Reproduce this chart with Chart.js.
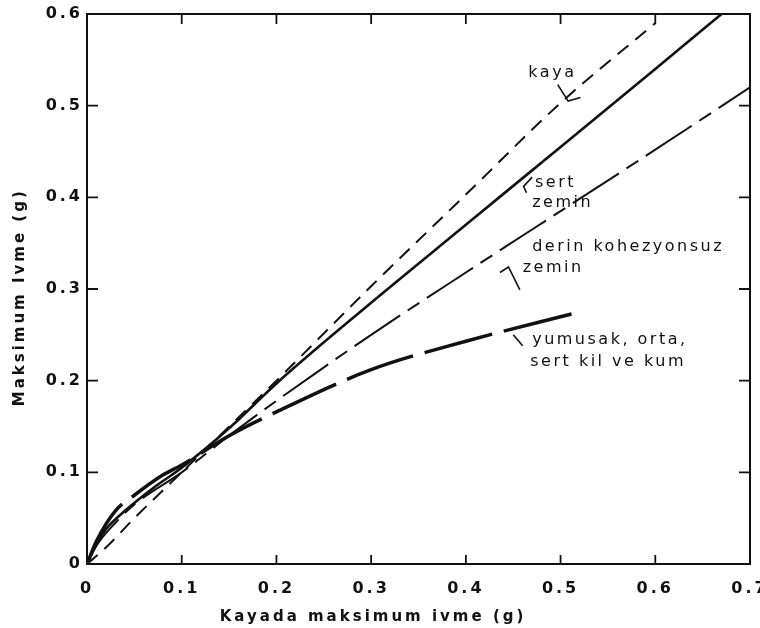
<!DOCTYPE html>
<html>
<head>
<meta charset="utf-8">
<script src="https://cdn.jsdelivr.net/npm/chart.js@4.4.1/dist/chart.umd.min.js"></script>
<style>
  html, body { margin: 0; padding: 0; background: #fff; }
  #wrap { width: 760px; height: 628px; }
</style>
</head>
<body>
<div id="wrap"><canvas id="chart" width="760" height="628"></canvas></div>
<script>
// values (g)
const kayaX = [0, 0.02, 0.05, 0.1, 0.2, 0.3, 0.4, 0.5, 0.6];
const kayaY = [0, 0.018, 0.05, 0.1, 0.2, 0.303, 0.403, 0.503, 0.59];

const sertX = [0, 0.01, 0.02, 0.04, 0.07, 0.1, 0.15, 0.2, 0.3, 0.4, 0.5, 0.6, 0.67];
const sertY = [0, 0.022, 0.038, 0.058, 0.083, 0.105, 0.148, 0.197, 0.285, 0.37, 0.455, 0.54, 0.6];

const derinX = [0, 0.01, 0.03, 0.05, 0.1, 0.15, 0.2, 0.3, 0.4, 0.5, 0.6, 0.7];
const derinY = [0, 0.02, 0.045, 0.065, 0.1, 0.14, 0.178, 0.25, 0.318, 0.385, 0.452, 0.52];

const yumusakX = [0, 0.01, 0.03, 0.05, 0.08, 0.1, 0.15, 0.2, 0.3, 0.4, 0.52];
const yumusakY = [0, 0.025, 0.058, 0.075, 0.097, 0.108, 0.14, 0.166, 0.212, 0.243, 0.275];

const xTickValues = [0, 0.1, 0.2, 0.3, 0.4, 0.5, 0.6, 0.7];
const xTickLabels = ["0", "0.1", "0.2", "0.3", "0.4", "0.5", "0.6", "0.7"];
const yTickValues = [0, 0.1, 0.2, 0.3, 0.4, 0.5, 0.6];
const yTickLabels = ["0", "0.1", "0.2", "0.3", "0.4", "0.5", "0.6"];

// curve labels inside the plot (data coordinates of text start)
const curveLabels = [
    { text: "kaya", x: 0.466, y: 0.536 },
    { text: "sert", x: 0.473, y: 0.416 },
    { text: "zemin", x: 0.470, y: 0.394 },
    { text: "derin kohezyonsuz", x: 0.470, y: 0.346 },
    { text: "zemin", x: 0.460, y: 0.323 },
    { text: "yumusak, orta,", x: 0.470, y: 0.245 },
    { text: "sert kil ve kum", x: 0.468, y: 0.220 }
];
const leaders = [
    [[0.497, 0.523], [0.508, 0.505], [0.521, 0.509]],
    [[0.470, 0.422], [0.461, 0.412], [0.464, 0.405]],
    [[0.436, 0.318], [0.445, 0.324], [0.457, 0.299]],
    [[0.450, 0.250], [0.460, 0.238]]
];

const ink = "#111";
const pts = (xs, ys) => xs.map((x, i) => ({ x: x, y: ys[i] }));

const framePlugin = {
    id: "frame",
    beforeDraw(chart) {
        chart.ctx.letterSpacing = "3px";
    },
    afterDraw(chart) {
        const ctx = chart.ctx;
        const a = chart.chartArea;
        const xs = chart.scales.x, ys = chart.scales.y;
        ctx.save();
        ctx.letterSpacing = "0px";
        ctx.strokeStyle = ink;
        ctx.lineWidth = 2;
        ctx.strokeRect(a.left, a.top, a.right - a.left, a.bottom - a.top);

        // inward ticks on all four sides
        ctx.lineWidth = 1.8;
        ctx.beginPath();
        xTickValues.slice(1, -1).forEach(v => {
            const px = xs.getPixelForValue(v);
            ctx.moveTo(px, a.bottom); ctx.lineTo(px, a.bottom - 9);
            ctx.moveTo(px, a.top); ctx.lineTo(px, a.top + 10);
        });
        yTickValues.slice(1, -1).forEach(v => {
            const py = ys.getPixelForValue(v);
            ctx.moveTo(a.left, py); ctx.lineTo(a.left + 11, py);
            ctx.moveTo(a.right, py); ctx.lineTo(a.right - 11, py);
        });
        ctx.stroke();

        // leader marks
        ctx.lineWidth = 1.6;
        leaders.forEach(line => {
            ctx.beginPath();
            line.forEach((p, i) => {
                const px = xs.getPixelForValue(p[0]), py = ys.getPixelForValue(p[1]);
                if (i === 0) ctx.moveTo(px, py); else ctx.lineTo(px, py);
            });
            ctx.stroke();
        });

        // curve labels
        ctx.fillStyle = ink;
        ctx.font = "16px 'DejaVu Sans'";
        ctx.letterSpacing = "2.5px";
        ctx.textAlign = "left";
        ctx.textBaseline = "middle";
        curveLabels.forEach(l => {
            ctx.fillText(l.text, xs.getPixelForValue(l.x), ys.getPixelForValue(l.y));
        });

        // axis titles
        ctx.font = "bold 15px 'DejaVu Sans'";
        ctx.letterSpacing = "3px";
        ctx.textAlign = "center";
        ctx.fillText("Kayada maksimum ivme (g)", xs.getPixelForValue(0.302), a.bottom + 53);
        ctx.translate(20, ys.getPixelForValue(0.291));
        ctx.rotate(-Math.PI / 2);
        ctx.fillText("Maksimum Ivme (g)", 0, 0);
        ctx.restore();
    }
};

const tickFont = { family: "'DejaVu Sans'", size: 16, weight: "bold" };

new Chart(document.getElementById("chart"), {
    type: "line",
    data: {
        datasets: [
            {
                label: "kaya",
                data: pts(kayaX, kayaY),
                borderColor: ink,
                borderWidth: 2,
                borderDash: [14, 9]
            },
            {
                label: "sert zemin",
                data: pts(sertX, sertY),
                borderColor: ink,
                borderWidth: 2.6
            },
            {
                label: "derin kohezyonsuz zemin",
                data: pts(derinX, derinY),
                borderColor: ink,
                borderWidth: 2,
                borderDash: [55, 9, 14, 9]
            },
            {
                label: "yumusak, orta, sert kil ve kum",
                data: pts(yumusakX, yumusakY),
                borderColor: ink,
                borderWidth: 3.5,
                borderDash: [70, 12]
            }
        ]
    },
    options: {
        responsive: false,
        animation: false,
        events: [],
        layout: { padding: { top: 14, right: 10, left: 0, bottom: 0 } },
        elements: {
            point: { radius: 0 },
            line: { cubicInterpolationMode: "monotone", fill: false }
        },
        plugins: {
            legend: { display: false },
            tooltip: { enabled: false }
        },
        scales: {
            x: {
                type: "linear",
                min: 0,
                max: 0.7,
                grid: { display: false },
                border: { display: false },
                afterBuildTicks: s => { s.ticks = xTickValues.map(v => ({ value: v })); },
                afterFit: s => { s.height = 64; s.paddingLeft = 0; s.paddingRight = 0; },
                ticks: {
                    color: ink,
                    font: tickFont,
                    padding: 7,
                    maxRotation: 0,
                    autoSkip: false,
                    callback: (v, i) => xTickLabels[i]
                }
            },
            y: {
                type: "linear",
                min: 0,
                max: 0.6,
                grid: { display: false },
                border: { display: false },
                afterBuildTicks: s => { s.ticks = yTickValues.map(v => ({ value: v })); },
                afterFit: s => { s.width = 87; s.paddingTop = 0; s.paddingBottom = 0; },
                ticks: {
                    color: ink,
                    font: tickFont,
                    padding: -4,
                    autoSkip: false,
                    callback: (v, i) => yTickLabels[i]
                }
            }
        }
    },
    plugins: [framePlugin]
});
</script>
</body>
</html>
